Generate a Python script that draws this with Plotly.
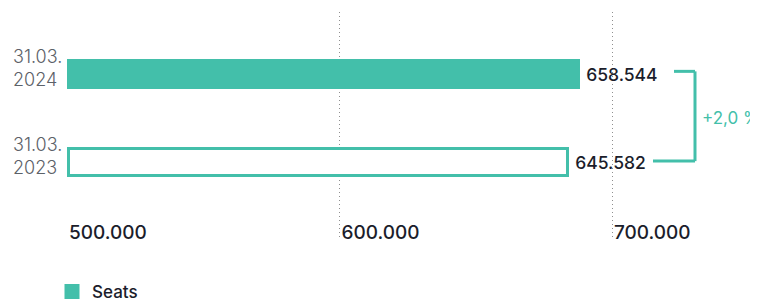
import plotly.graph_objects as go

# ---- data ----
categories = ["31.03.2024", "31.03.2023"]
category_labels = ["31.03.<br>2024", "31.03.<br>2023"]
seats = [658544, 645582]
series_name = "Seats"
grid_ticks = [500000, 600000, 700000]
grid_tick_labels = ["500.000", "600.000", "700.000"]

TEAL = "#43bfaa"
DARK = "#1b1d2b"
GRAY_TXT = "#5c6168"
FONT = "Inter"

# The page body has an 8px default margin; lay out in page pixels and convert.
OFF = 8
def fx(px):  # page x -> figure x
    return px - OFF

W, H = 758 - OFF, 301 - OFF
PLOT_L, PLOT_R, PLOT_T, PLOT_B = fx(66), fx(740), fx(12), fx(238)
ML, MR, MT, MB = PLOT_L, W - PLOT_R, PLOT_T, H - PLOT_B
PW = PLOT_R - PLOT_L
PH = PLOT_B - PLOT_T

# grid axis: 500.000 gridline at page x=67, 700.000 at page x=612
k = (612 - 67) / (grid_ticks[-1] - grid_ticks[0])
g_lo = grid_ticks[0] - (fx(67) - PLOT_L) / k
g_hi = g_lo + PW / k

# bar axis (zero based): 0 at page x=68.5, largest value at 578.5
s = (578.5 - 68.5) / max(seats)
b_lo = -(fx(68.5) - PLOT_L) / s
b_hi = b_lo + PW / s

# category axis: 88px between bars (index 0 = 2023 at bottom)
spacing = 88
y_hi = 1 + (fx(74) - PLOT_T) / spacing
y_lo = y_hi - PH / spacing
cat_bottom_to_top = categories[::-1]

fig = go.Figure()
fig.add_trace(go.Bar(
    y=categories, x=seats, orientation="h",
    name=series_name,
    width=27 / spacing,
    marker=dict(color=[TEAL, "white"], line=dict(color=TEAL, width=3)),
    texttemplate=" %{x:,.0f}", textposition="outside", cliponaxis=False,
    textfont=dict(family=FONT, size=17.5, color=DARK, weight=500),
    showlegend=True, hoverinfo="skip",
))
# invisible carrier for the grid axis
fig.add_trace(go.Scatter(
    x=grid_ticks, y=[cat_bottom_to_top[0]] * len(grid_ticks), xaxis="x2",
    mode="markers", marker=dict(opacity=0), showlegend=False, hoverinfo="skip",
))

def px2paper(px_page):
    return (fx(px_page) - PLOT_L) / PW

annotations = []
for cat, lab in zip(categories, category_labels):
    annotations.append(dict(
        text=lab, x=0, xref="paper", y=cat, yref="y", xanchor="right",
        xshift=-2, yshift=6, align="left", showarrow=False,
        font=dict(family=FONT, size=18, color=GRAY_TXT, weight=300),
    ))

pct = (seats[0] / seats[1] - 1) * 100
pct_text = ("+" if pct >= 0 else "") + f"{pct:.1f}".replace(".", ",") + " %"
annotations.append(dict(
    text=pct_text, x=px2paper(700), xref="paper", y=0.5, yref="y",
    xanchor="left", showarrow=False,
    font=dict(family=FONT, size=17, color=TEAL),
))

shapes = [
    dict(type="line", xref="paper", yref="y", x0=px2paper(674), x1=px2paper(695),
         y0=1.03, y1=1.03, line=dict(color=TEAL, width=3)),
    dict(type="line", xref="paper", yref="y", x0=px2paper(695), x1=px2paper(695),
         y0=1.03, y1=0.01, line=dict(color=TEAL, width=3)),
    dict(type="line", xref="paper", yref="y", x0=px2paper(653), x1=px2paper(695),
         y0=0.01, y1=0.01, line=dict(color=TEAL, width=3)),
]

# legend: bottom edge a little below the page bottom so the swatch sits at y~285-299
legend_bottom_page = 310
fig.update_layout(
    width=W, height=H,
    margin=dict(l=ML, r=MR, t=MT, b=MB, pad=0, autoexpand=False),
    paper_bgcolor="white", plot_bgcolor="white",
    separators=",.",
    font=dict(family=FONT, color=DARK),
    xaxis=dict(range=[b_lo, b_hi], visible=False, automargin=False),
    xaxis2=dict(
        range=[g_lo, g_hi], tickvals=grid_ticks, ticktext=grid_tick_labels,
        overlaying="x", side="bottom", anchor="y",
        showgrid=True, gridcolor="#8f8f8f", griddash="1px,3px", gridwidth=1,
        zeroline=False, showline=False, ticks="", automargin=False,
        ticklabelposition="inside right", ticklabelstandoff=-11, ticklabelshift=2,
        tickfont=dict(family=FONT, size=19, color=DARK, weight=500),
        layer="below traces",
    ),
    yaxis=dict(type="category", categoryorder="array", categoryarray=cat_bottom_to_top,
               range=[y_lo, y_hi], showticklabels=False, showgrid=False,
               zeroline=False, showline=False, ticks="", automargin=False),
    annotations=annotations,
    shapes=shapes,
    legend=dict(orientation="h", xref="container", yref="paper",
                x=fx(52) / W, y=-(legend_bottom_page - 238) / PH,
                yanchor="bottom", xanchor="left",
                font=dict(family=FONT, size=17, color=DARK, weight=500)),
    bargap=0,
)

fig.write_html("out.html")
